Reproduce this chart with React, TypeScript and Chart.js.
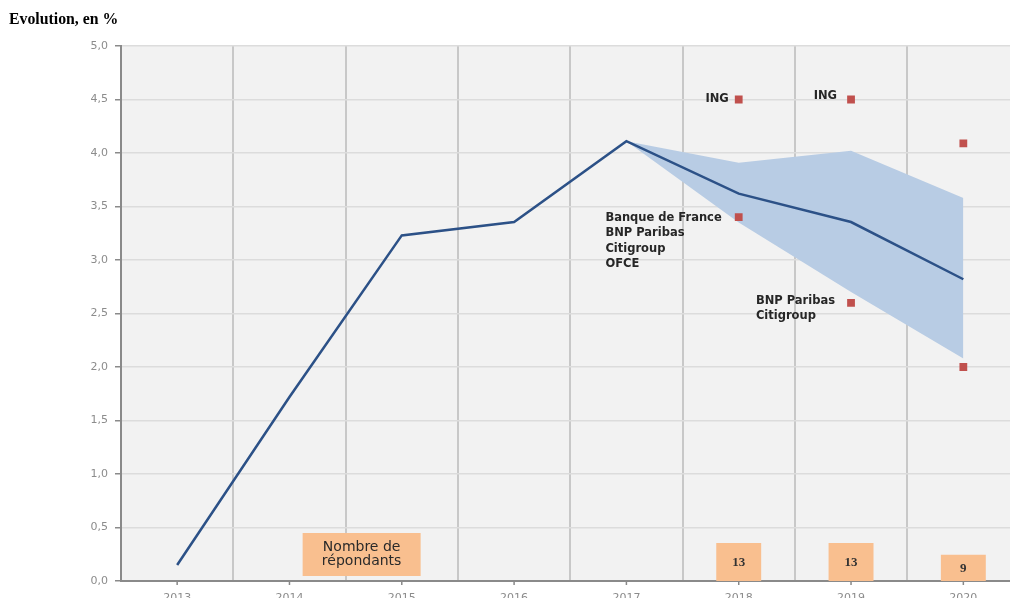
import React, { useEffect, useRef } from 'react';
import { Chart, registerables } from 'chart.js';

Chart.register(...registerables);

// ---- data ----
const years = ['2013', '2014', '2015', '2016', '2017', '2018', '2019', '2020'];
const growth = [0.15, 1.72, 3.23, 3.355, 4.11, 3.62, 3.355, 2.82];
const bandHigh = [null, null, null, null, 4.11, 3.91, 4.02, 3.58];
const bandLow = [null, null, null, null, 4.11, 3.35, 2.7, 2.08];
const forecastHigh = [null, null, null, null, null, 4.5, 4.5, 4.09];
const forecastLow = [null, null, null, null, null, 3.4, 2.6, 2.0];
const respondents = [null, null, null, null, null, 13, 13, 9];
const respondentsLabel = ['Nombre de', 'répondants'];
const noteYears = ['2018', '2019', '2018', '2019'];
const noteValues = [4.5, 4.5, 3.4, 2.6];
const noteTexts = [
  ['ING'],
  ['ING'],
  ['Banque de France', 'BNP Paribas', 'Citigroup', 'OFCE'],
  ['BNP Paribas', 'Citigroup'],
];
const noteDx = [-10, -14, -17, -16];
const noteDy = [0, -3, 1, -2];
const title = 'Evolution, en %';

const BAR_DS = 4;

const overlay = {
  id: 'overlay',
  beforeDraw(chart: any) {
    const { ctx, chartArea: a } = chart;
    ctx.save();
    ctx.fillStyle = '#F2F2F2';
    ctx.fillRect(a.left, a.top, a.right - a.left, a.bottom - a.top);
    ctx.restore();
  },
  afterDraw(chart: any) {
    const { ctx, chartArea: a } = chart;
    const xs = chart.scales.x;
    const ys = chart.scales.y;
    ctx.save();
    // x tick marks at category centres
    ctx.strokeStyle = '#888';
    ctx.lineWidth = 1.5;
    years.forEach((_, i) => {
      const px = xs.getPixelForValue(i);
      ctx.beginPath();
      ctx.moveTo(px, a.bottom + 1);
      ctx.lineTo(px, a.bottom + 4);
      ctx.stroke();
    });
    // respondents numbers inside bars
    const meta = chart.getDatasetMeta(BAR_DS);
    ctx.fillStyle = '#333';
    ctx.font = 'bold 13px "Liberation Serif"';
    ctx.textAlign = 'center';
    ctx.textBaseline = 'middle';
    meta.data.forEach((bar: any, i: number) => {
      if (respondents[i] == null) return;
      const p = bar.getProps(['x', 'y', 'base'], true);
      ctx.fillText(String(respondents[i]), p.x, (p.y + p.base) / 2 + 1);
    });
    // legend box "Nombre de répondants"
    const cx = (xs.getPixelForValue(1) + xs.getPixelForValue(2)) / 2 + 16;
    const bw = 118;
    const bh = 43;
    const by = a.bottom - 5 - bh;
    ctx.fillStyle = '#F9BF8F';
    ctx.fillRect(cx - bw / 2, by, bw, bh);
    ctx.fillStyle = '#2a2a2a';
    ctx.font = '14px "DejaVu Sans"';
    respondentsLabel.forEach((t, i) => {
      ctx.fillText(t, cx, by + 14 + i * 14.5);
    });
    // forecaster notes
    ctx.font = 'bold 11.5px "DejaVu Sans"';
    ctx.fillStyle = '#262626';
    ctx.textAlign = 'left';
    noteTexts.forEach((lines, k) => {
      const mx = xs.getPixelForValue(years.indexOf(noteYears[k]));
      const my = ys.getPixelForValue(noteValues[k]);
      const w = Math.max(...lines.map((l) => ctx.measureText(l).width));
      const left = mx + noteDx[k] - w;
      lines.forEach((l, j) => {
        ctx.fillText(l, left, my + noteDy[k] + j * 15.3);
      });
    });
    ctx.restore();
  },
};

export default function App() {
  const ref = useRef<HTMLCanvasElement | null>(null);
  useEffect(() => {
    if (!ref.current) return;
    const chart = new Chart(ref.current, {
      type: 'line',
      data: {
        labels: years,
        datasets: [
          {
            label: 'growth',
            data: growth,
            borderColor: '#2C5187',
            borderWidth: 2.5,
            pointRadius: 0,
            fill: false,
            order: 0,
          } as any,
          {
            label: 'high',
            data: bandHigh,
            borderWidth: 0,
            borderColor: 'rgba(0,0,0,0)',
            pointRadius: 0,
            fill: false,
            order: 3,
          },
          {
            label: 'low',
            data: bandLow,
            borderWidth: 0,
            borderColor: 'rgba(0,0,0,0)',
            backgroundColor: '#B8CCE4',
            pointRadius: 0,
            fill: '-1',
            order: 3,
          },
          {
            label: 'forecasts',
            data: [...forecastHigh],
            showLine: false,
            pointStyle: 'rect',
            pointRadius: 5.5,
            pointBackgroundColor: '#C0504D',
            pointBorderWidth: 0,
            order: 1,
          } as any,
          {
            type: 'bar',
            label: 'respondents',
            data: respondents,
            yAxisID: 'y2',
            backgroundColor: '#F9BF8F',
            barPercentage: 0.4,
            categoryPercentage: 1,
            order: 4,
          } as any,
          {
            label: 'forecastsLow',
            data: forecastLow,
            showLine: false,
            pointStyle: 'rect',
            pointRadius: 5.5,
            pointBackgroundColor: '#C0504D',
            pointBorderWidth: 0,
            order: 1,
          } as any,
        ],
      },
      options: {
        animation: false,
        responsive: true,
        maintainAspectRatio: false,
        layout: { padding: { top: 46, left: 0, right: 0, bottom: 0 } },
        plugins: {
          legend: { display: false },
          tooltip: { enabled: false },
        },
        scales: {
          x: {
            type: 'category',
            offset: true,
            grid: {
              offset: true,
              color: '#C8C8C8',
              lineWidth: 2,
              drawTicks: false,
            },
            border: { display: true, color: '#8a8a8a', width: 2 },
            ticks: {
              padding: 11,
              color: '#8c8c8c',
              font: { family: 'DejaVu Sans', size: 11 },
              maxRotation: 0,
            },
            afterFit: (s: any) => {
              s.height = 25;
            },
          },
          y: {
            min: 0,
            max: 5,
            ticks: {
              stepSize: 0.5,
              padding: 7,
              color: '#8c8c8c',
              font: { family: 'DejaVu Sans', size: 11 },
              callback: (v: any) => Number(v).toFixed(1).replace('.', ','),
            },
            grid: {
              color: '#DCDCDC',
              lineWidth: 1.5,
              tickLength: 6,
              tickColor: '#8a8a8a',
            },
            border: { display: true, color: '#8a8a8a', width: 2 },
            afterFit: (s: any) => {
              s.width = 121;
            },
          },
          y2: {
            display: false,
            min: 0,
            max: 183,
          },
        },
      } as any,
      plugins: [overlay],
    });
    return () => chart.destroy();
  }, []);

  return (
    <div
      style={{
        position: 'absolute',
        left: 0,
        top: 0,
        width: 1010,
        height: 598,
        overflow: 'hidden',
        background: '#fff',
      }}
    >
      <div style={{ position: 'absolute', left: 0, top: 0, width: 1025, height: 606 }}>
        <canvas ref={ref} />
      </div>
      <div
        style={{
          position: 'absolute',
          left: 9,
          top: 10,
          fontFamily: '"Liberation Serif", serif',
          fontWeight: 'bold',
          fontSize: 15.8,
          color: '#000',
          whiteSpace: 'nowrap',
        }}
      >
        {title}
      </div>
    </div>
  );
}
